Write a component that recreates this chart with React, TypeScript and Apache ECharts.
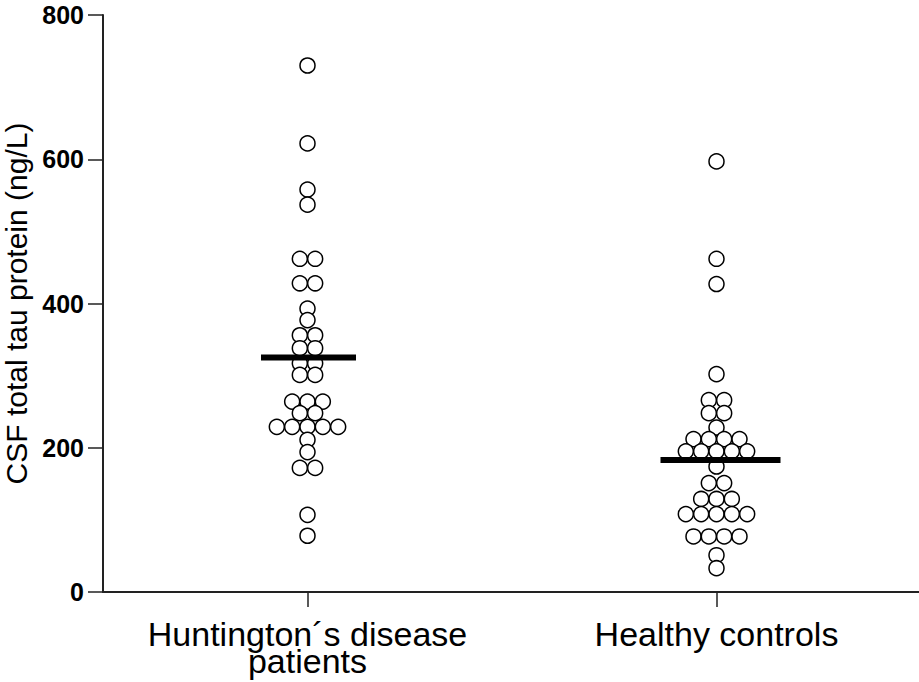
import React, { useEffect, useRef } from "react";
import * as echarts from "echarts";

const categories = ["Huntington´s disease\npatients", "Healthy controls"];
const hdValues = [730, 622, 558, 537, 462, 462, 428, 428, 393, 377, 356, 356, 338, 338, 317, 317, 301, 301, 264, 264, 264, 248, 248, 229, 229, 229, 229, 229, 211, 194, 172, 172, 107, 78];
const hcValues = [597, 462, 427, 302, 266, 266, 248, 248, 228, 212, 212, 212, 212, 195, 195, 195, 195, 195, 174, 151, 151, 129, 129, 129, 108, 108, 108, 108, 108, 77, 77, 77, 77, 51, 33];
const groupMeans = [325, 183];
const yTicks = [0, 200, 400, 600, 800];

const DOT_STEP = 0.0375;

function swarm(values: number[], center: number): number[][] {
  const counts: Record<number, number> = {};
  values.forEach((v) => (counts[v] = (counts[v] || 0) + 1));
  const seen: Record<number, number> = {};
  return values.map((v) => {
    const n = counts[v];
    const i = seen[v] || 0;
    seen[v] = i + 1;
    return [center + (i - (n - 1) / 2) * DOT_STEP, v];
  });
}

export default function App() {
  const ref = useRef<HTMLDivElement>(null);
  useEffect(() => {
    if (!ref.current) return;
    const chart = echarts.init(ref.current, null, { renderer: "svg" });
    const dots = [...swarm(hdValues, 1), ...swarm(hcValues, 2)];
    const font = "Liberation Sans, Arial, sans-serif";
    chart.setOption({
      animation: false,
      backgroundColor: "#ffffff",
      grid: { left: 103, top: 15, right: -2, bottom: 90, containLabel: false, outerBoundsMode: "none" },
      xAxis: [
        {
          type: "category",
          data: categories,
          boundaryGap: true,
          axisLine: { show: true, lineStyle: { color: "#222", width: 2 } },
          axisTick: { show: true, alignWithLabel: true, length: 15, lineStyle: { color: "#222", width: 1.5 } },
          axisLabel: {
            interval: 0,
            hideOverlap: false,
            margin: 28,
            color: "#000",
            fontFamily: font,
            fontSize: 34,
            lineHeight: 27,
          },
          splitLine: { show: false },
        },
        {
          type: "value",
          min: 0.5,
          max: 2.5,
          show: false,
        },
      ],
      yAxis: {
        type: "value",
        min: yTicks[0],
        max: yTicks[yTicks.length - 1],
        interval: 200,
        name: "CSF total tau protein (ng/L)",
        nameLocation: "middle",
        nameRotate: 90,
        nameGap: 62,
        nameTextStyle: {
          color: "#000",
          fontFamily: font,
          fontSize: 30,
          lineHeight: 30,
        },
        axisLine: { show: true, lineStyle: { color: "#222", width: 2 } },
        axisTick: { show: true, length: 15, lineStyle: { color: "#222", width: 1.5 } },
        axisLabel: {
          margin: 19,
          color: "#000",
          fontWeight: "bold",
          fontFamily: font,
          fontSize: 25,
        },
        splitLine: { show: false },
      },
      series: [
        {
          type: "scatter",
          xAxisIndex: 1,
          data: dots,
          symbol: "circle",
          symbolSize: 15,
          itemStyle: { color: "#ffffff", borderColor: "#000", borderWidth: 1.5, opacity: 1 },
          z: 2,
        },
        {
          type: "scatter",
          xAxisIndex: 1,
          data: [
            { value: [1, groupMeans[0]], symbolSize: [95, 6], symbolOffset: [1, 0] },
            { value: [2, groupMeans[1]], symbolSize: [120, 6], symbolOffset: [4, 0] },
          ],
          symbol: "rect",
          itemStyle: { color: "#000", opacity: 1 },
          z: 3,
        },
      ],
    });
    return () => chart.dispose();
  }, []);
  return <div ref={ref} style={{ position: "fixed", left: 0, top: 0, width: 919, height: 682 }} />;
}
